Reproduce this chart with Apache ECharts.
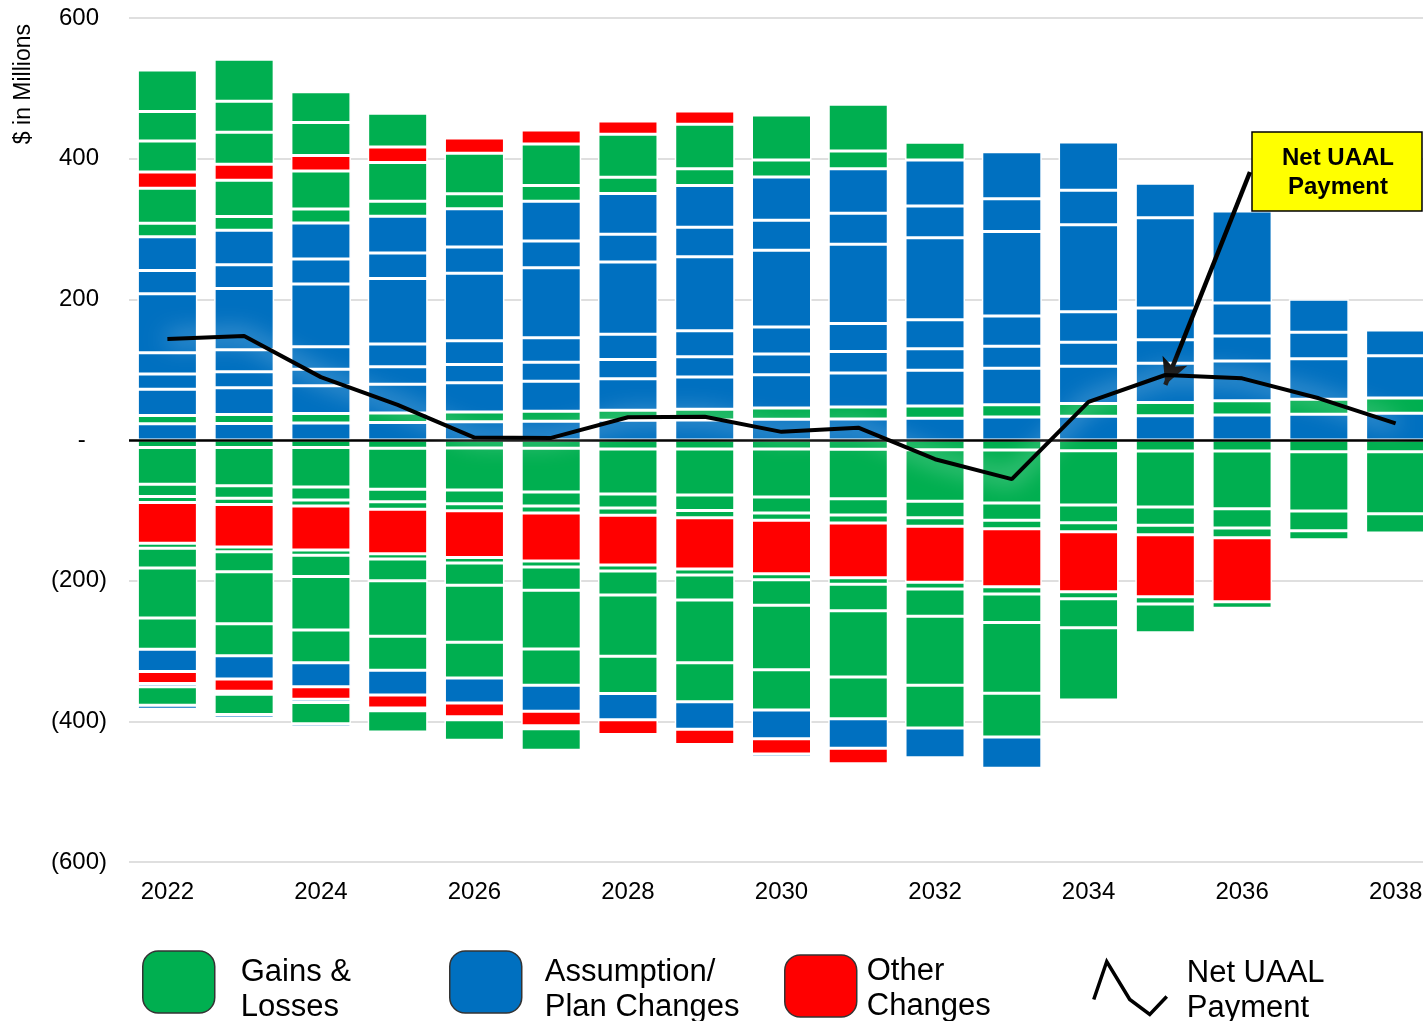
<!DOCTYPE html>
<html>
<head>
<meta charset="utf-8">
<title>UAAL Amortization Bases</title>
<script src="https://cdn.jsdelivr.net/npm/echarts@6/dist/echarts.min.js"></script>
<style>
  html, body { margin: 0; padding: 0; background: #fff; overflow: hidden; }
  /* plot area runs past the right edge of the page */
  #chart { width: 1434px; height: 1021px; }
</style>
</head>
<body>
<div id="chart"></div>
<script>
// Fiscal years on the category axis
const years = ['2022','2023','2024','2025','2026','2027','2028','2029','2030',
               '2031','2032','2033','2034','2035','2036','2037','2038'];

// Net UAAL payment ($ millions)
const netPayment = [143.6, 148, 89.4, 50, 3.5, 3, 32.4, 33, 11.6, 17.5, -27.3, -55.7, 54.3, 92.4, 87.7, 59.3, 23.7];

// Positive amortization bases, listed from the zero line upward ($ millions)
const posAssump1 = [23, 23.5, 24.2, 24.9, 25.9, 26.7, 28, 28.4, 29.6, 29.9, 31, 32.7, 33.8, 34.4, 35.5, 36.7, 38.1];
const posGains1  = [12, 12.8, 13.5, 13.5, 13.9, 14.3, 14.4, 15.4, 15.9, 17, 17.3, 17.3, 18.1, 18.9, 20.2, 21.2, 21.6];
const posAssump2 = [37, 38, 39.3, 40.8, 41.7, 42.6, 44.6, 45.8, 47.3, 48.4, 50.8, 52.1, 53, 55.8, 56.6, 57.6, 60.2];
const posAssump3 = [22, 22.6, 23.7, 24.8, 25.9, 27, 27.5, 28.7, 29.5, 30.5, 30.6, 31.3, 34, 33.5, 35.6, 37.6, 36.5];
const posAssump4 = [30, 31.4, 32, 32.5, 33.8, 34.7, 35.9, 37, 38.4, 39.8, 41.3, 42.9, 43.5, 45.1, 46.9, 46.9, null];
const posAssump5 = [84, 87, 89, 93, 95.8, 99.5, 102.7, 105.3, 109.2, 112.7, 116.7, 120.2, 123.7, 128.4, 130.8, null, null];
const posAssump6 = [33, 34, 35.8, 36.4, 37.4, 38.1, 39.5, 41.8, 42.5, 44, 45, 46.6, 48.9, 48.9, null, null, null];
const posAssump7 = [48, 49, 51, 52.2, 54.3, 56.6, 57.9, 59.5, 61.6, 63.5, 65.4, 66.9, 68.7, null, null, null, null];
const posGains2  = [19, 19.6, 19.9, 21.5, 21.5, 22.4, 23.1, 23.7, 24.1, 25.1, 25.2, null, null, null, null, null, null];
const posGains3  = [50, 51.5, 54, 55, 57.6, 59, 61, 63.3, 64, 66.4, null, null, null, null, null, null, null];
const posOther1  = [23, 22.7, 22, 22, 21.6, 19.8, 18.9, 18.9, null, null, null, null, null, null, null, null, null];
const posGains4  = [44, 45.6, 47, 47.9, null, null, null, null, null, null, null, null, null, null, null, null, null];
const posGains5  = [42, 44, 43.8, null, null, null, null, null, null, null, null, null, null, null, null, null, null];
const posGains6  = [59, 59.7, null, null, null, null, null, null, null, null, null, null, null, null, null, null, null];

// Negative amortization bases, listed from the zero line downward ($ millions)
const negGains1  = [-10.7, -10.7, -10.7, -11.7, -11.4, -11.8, -12.8, -12.8, -12.8, -13.2, -13.9, -14.2, -15.4, -15.6, -15.6, -16.8, -16.8];
const negGains2  = [-52.2, -54.4, -56.1, -58.3, -59.7, -62.1, -64, -65.4, -68.2, -70.4, -73.1, -75.4, -77, -79.7, -82.2, -84.2, -88];
const negGains3  = [-17.4, -17.6, -18.5, -17.9, -19.6, -19.9, -19.9, -22, -22.8, -23, -23.5, -24.4, -25.2, -26, -27.3, -28, -27.4];
const negGains4  = [-8.6, -9, -8.5, -10.5, -10, -10, -10.4, -10.3, -10.4, -11.4, -12.1, -12.3, -12.8, -13.4, -14, -12.8, null];
const negOther1  = [-57.8, -60.4, -62.6, -63.4, -66.4, -68.2, -70.6, -72.9, -75.9, -78, -79.7, -82.3, -85.4, -88.1, -90.8, null, null];
const negGains5  = [-7.2, -6.9, -7.4, -7.4, -7.8, -8.6, -8.6, -8.6, -8.5, -9.2, -9.6, -10.4, -9.8, -10.4, -9.4, null, null];
const negGains6  = [-28.1, -28.4, -30.3, -31, -31.7, -33, -34.1, -35.5, -36.3, -37.7, -38.8, -40.5, -41.3, -40.8, null, null, null];
const negGains7  = [-71, -73.9, -76.1, -78.8, -81, -83.6, -87, -89.1, -91.9, -94.1, -97.9, -100.5, -102.8, null, null, null, null];
const negGains8  = [-44.4, -45.5, -46.4, -48.3, -50.8, -51.6, -53, -55.7, -57.1, -59.4, -60.9, -62.3, null, null, null, null, null];
const negAssump1 = [-31.8, -33, -34.2, -35.3, -35.5, -37, -37.3, -38.9, -40.8, -42, -42.2, -44.5, null, null, null, null, null];
const negOther2  = [-17, -17.5, -17.9, -18.4, -19.5, -20.4, -21, -21.8, -21.8, -21.8, null, null, null, null, null, null, null];
const negAssump2 = [-4.6, -4.1, -4.6, -4, -4.3, -4.3, -4, -3.1, -4.7, null, null, null, null, null, null, null, null];
const negGains9  = [-26.2, -28.9, -30.1, -30.2, -29.3, -30.7, null, null, null, null, null, null, null, null, null, null, null];
const negAssump3 = [-5.8, -5, -4.7, -2.8, null, null, null, null, null, null, null, null, null, null, null, null, null];

const GAINS = 'Gains & Losses';
const ASSUMP = 'Assumption/Plan Changes';
const OTHER = 'Other Changes';
const NET = 'Net UAAL Payment';

const typeColor = { [GAINS]: '#00AF50', [ASSUMP]: '#0070C0', [OTHER]: '#FF0000' };
const legendLines = {
  [GAINS]: ['Gains &', 'Losses'],
  [ASSUMP]: ['Assumption/', 'Plan Changes'],
  [OTHER]: ['Other', 'Changes'],
  [NET]: ['Net UAAL', 'Payment']
};

// Stack order: positive layers first (bottom up), then negative layers (top down)
const layers = [
  [ASSUMP, posAssump1], [GAINS, posGains1], [ASSUMP, posAssump2], [ASSUMP, posAssump3],
  [ASSUMP, posAssump4], [ASSUMP, posAssump5], [ASSUMP, posAssump6], [ASSUMP, posAssump7],
  [GAINS, posGains2], [GAINS, posGains3], [OTHER, posOther1], [GAINS, posGains4],
  [GAINS, posGains5], [GAINS, posGains6],
  [GAINS, negGains1], [GAINS, negGains2], [GAINS, negGains3], [GAINS, negGains4],
  [OTHER, negOther1], [GAINS, negGains5], [GAINS, negGains6], [GAINS, negGains7],
  [GAINS, negGains8], [ASSUMP, negAssump1], [OTHER, negOther2], [ASSUMP, negAssump2],
  [GAINS, negGains9], [ASSUMP, negAssump3]
];

const FONT = '"Liberation Sans", Arial, Helvetica, sans-serif';

const barSeries = layers.map(([name, data], i) => {
  const s = {
    type: 'bar',
    name,
    stack: 'total',
    data,
    barWidth: 60,
    itemStyle: { color: typeColor[name], borderColor: '#ffffff', borderWidth: 1.5 },
    emphasis: { disabled: true },
    silent: true
  };
  if (i === 0) {
    // zero reference line
    s.markLine = {
      silent: true,
      symbol: 'none',
      label: { show: false },
      lineStyle: { color: '#000', width: 2.5, type: 'solid' },
      data: [{ yAxis: 0 }],
      z: 5
    };
  }
  return s;
});

const netIdx = years.indexOf('2035');

const lineSeries = {
  type: 'line',
  name: NET,
  data: netPayment,
  symbol: 'none',
  z: 10,
  silent: true,
  itemStyle: { color: '#000' },
  lineStyle: {
    color: '#000',
    width: 4,
    shadowBlur: 24,
    shadowColor: 'rgba(255,255,255,1)'
  },
  emphasis: { disabled: true },
  markLine: {
    silent: true,
    label: { show: false },
    lineStyle: { color: '#000', width: 4.5, type: 'solid', shadowBlur: 0 },
    data: [[
      { x: 1250, y: 172, symbol: 'none' },
      { coord: [years[netIdx], netPayment[netIdx] - 14], symbol: 'arrow', symbolSize: [20, 26] }
    ]]
  }
};

// Each legend entry: icon plus a two-line caption; a thin spacer line on top
// lowers the caption slightly relative to the icon.
function legendBlock(name, left, top, spacer, padLeft, iconOpts) {
  return Object.assign({
    data: [name],
    left,
    top,
    padding: 0,
    orient: 'horizontal',
    selectedMode: false,
    itemWidth: 72,
    itemHeight: 62,
    icon: 'roundRect',
    itemStyle: { borderColor: '#333', borderWidth: 1.5 },
    formatter: n => `{s| }\n{t|${legendLines[n][0]}}\n{t|${legendLines[n][1]}}`,
    textStyle: {
      fontFamily: FONT,
      fontSize: 31,
      color: '#000',
      padding: [0, 0, 0, padLeft],
      rich: {
        s: { fontSize: 2, lineHeight: spacer },
        t: { fontFamily: FONT, fontSize: 31, lineHeight: 35, color: '#000' }
      }
    }
  }, iconOpts || {});
}

const chart = echarts.init(document.getElementById('chart'), null, { renderer: 'canvas' });

chart.setOption({
  animation: false,
  backgroundColor: '#ffffff',
  grid: { left: 129, right: 0, top: 18, bottom: 159, containLabel: false },
  xAxis: {
    type: 'category',
    data: years,
    position: 'bottom',
    axisLine: { show: false, onZero: false },
    axisTick: { show: false },
    axisLabel: {
      interval: 1,
      margin: 18,
      fontFamily: FONT,
      fontSize: 24,
      color: '#000'
    }
  },
  yAxis: {
    type: 'value',
    min: -600,
    max: 600,
    interval: 200,
    axisLine: { show: false },
    axisTick: { show: false },
    splitLine: { lineStyle: { color: '#d4d4d4', width: 1.5 } },
    axisLabel: {
      margin: 22,
      formatter: v => v > 0 ? `{n|${v}}{h|)}` : (v < 0 ? `{n|(${-v})}` : `{n|-}{h|0)}`),
      rich: {
        n: { fontFamily: FONT, fontSize: 24, color: '#000' },
        h: { fontFamily: FONT, fontSize: 24, color: 'rgba(0,0,0,0)' }
      }
    }
  },
  legend: [
    legendBlock(GAINS, 142, 946, 16, 21),
    legendBlock(ASSUMP, 449, 946, 16, 18),
    legendBlock(OTHER, 784, 950, 6, 5),
    legendBlock(NET, 1092, 952, 6, 15, {
      icon: 'path://M0,38 L13,0 L36,38 L56,53 L73,35',
      itemWidth: 73,
      itemHeight: 53,
      itemStyle: { color: 'rgba(0,0,0,0)', borderColor: '#000', borderWidth: 3.5 }
    })
  ],
  graphic: [
    {
      type: 'text',
      left: 12,
      top: 24,
      rotation: Math.PI / 2,
      style: {
        text: '$ in Millions',
        fontFamily: FONT,
        fontSize: 23,
        fill: '#000'
      }
    },
    {
      type: 'rect',
      shape: { x: 1252, y: 132, width: 170, height: 79 },
      style: { fill: '#FFFF00', stroke: '#000', lineWidth: 1.5 },
      z: 20
    },
    {
      type: 'text',
      x: 1338,
      y: 173,
      z: 21,
      style: {
        text: 'Net UAAL\nPayment',
        fontFamily: FONT,
        fontWeight: 'bold',
        fontSize: 24,
        lineHeight: 29,
        fill: '#000',
        align: 'center',
        verticalAlign: 'middle'
      }
    }
  ],
  series: barSeries.concat([lineSeries])
});
</script>
</body>
</html>
